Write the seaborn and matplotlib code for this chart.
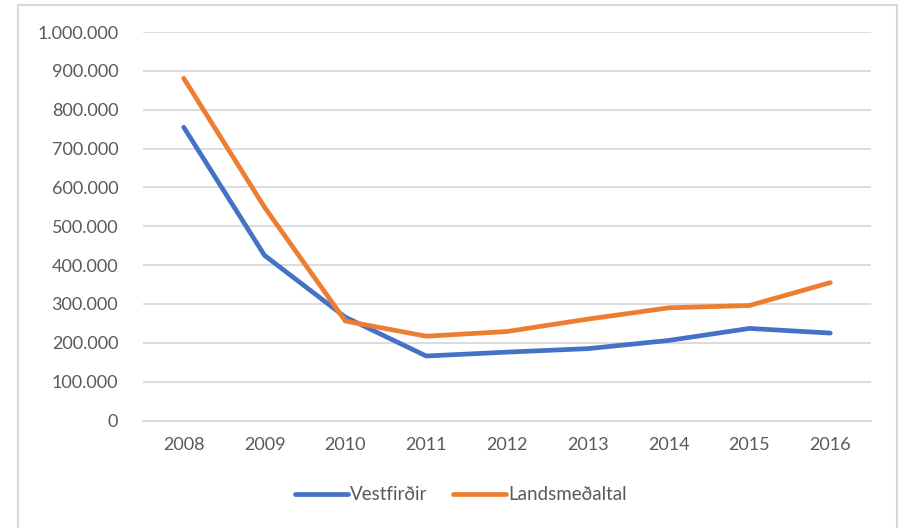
import pandas as pd
import matplotlib.pyplot as plt
import matplotlib.patches as patches
from matplotlib.ticker import FuncFormatter
import seaborn as sns

# Gögn lesin af myndinni
ar = [2008, 2009, 2010, 2011, 2012, 2013, 2014, 2015, 2016]
vestfirdir = [755000, 425000, 266000, 166000, 176000, 185000, 206000, 237000, 225000]
landsmedaltal = [881000, 549000, 256000, 217000, 229000, 261000, 290000, 296000, 355000]

dados = pd.DataFrame({
    'ar': ar * 2,
    'gildi': vestfirdir + landsmedaltal,
    'flokkur': ['Vestfirðir'] * len(ar) + ['Landsmeðaltal'] * len(ar),
})

sns.set_theme(style='white')
plt.rcParams['font.family'] = ['Lato', 'DejaVu Sans']

fig = plt.figure(figsize=(8.99, 5.28), dpi=100)
ax = fig.add_axes([143.3 / 899, 1 - 420.5 / 528, 727.4 / 899, 388.5 / 528])

sns.lineplot(data=dados, x='ar', y='gildi', hue='flokkur', ax=ax,
             palette=['#4472C4', '#ED7D31'], linewidth=3.4, legend=False)

ax.set_xlim(2007.5, 2016.5)
ax.set_ylim(0, 1000000)
ax.set_xticks(ar)
ax.set_yticks(range(0, 1000001, 100000))
ax.yaxis.set_major_formatter(FuncFormatter(lambda v, p: f'{int(v):,}'.replace(',', '.')))
ax.grid(axis='y', color='#D9D9D9', linewidth=1.3)
ax.set_axisbelow(True)
for s in ['top', 'right', 'left']:
    ax.spines[s].set_visible(False)
ax.spines['bottom'].set_color('#D9D9D9')
ax.spines['bottom'].set_linewidth(1.3)
ax.tick_params(axis='both', length=0, labelsize=13, labelcolor='#595959')
ax.tick_params(axis='y', pad=18)
ax.tick_params(axis='x', pad=12)
ax.set_xlabel('')
ax.set_ylabel('')

# Rammi utan um myndina
fig.patches.append(patches.Rectangle((18 / 899, -0.01), 879 / 899, 1.01 - 5 / 528,
                                     transform=fig.transFigure, fill=False,
                                     edgecolor='#D9D9D9', linewidth=1.5))

handles = [plt.Line2D([], [], color='#4472C4', linewidth=3.4),
           plt.Line2D([], [], color='#ED7D31', linewidth=3.4)]
fig.legend(handles, ['Vestfirðir', 'Landsmeðaltal'], loc='center',
           bbox_to_anchor=(461 / 899, 1 - 495 / 528), ncol=2, frameon=False,
           fontsize=13.5, labelcolor='#595959', handlelength=2.8,
           handletextpad=0.1, columnspacing=1.4)

fig.savefig('out.png', dpi=100)
